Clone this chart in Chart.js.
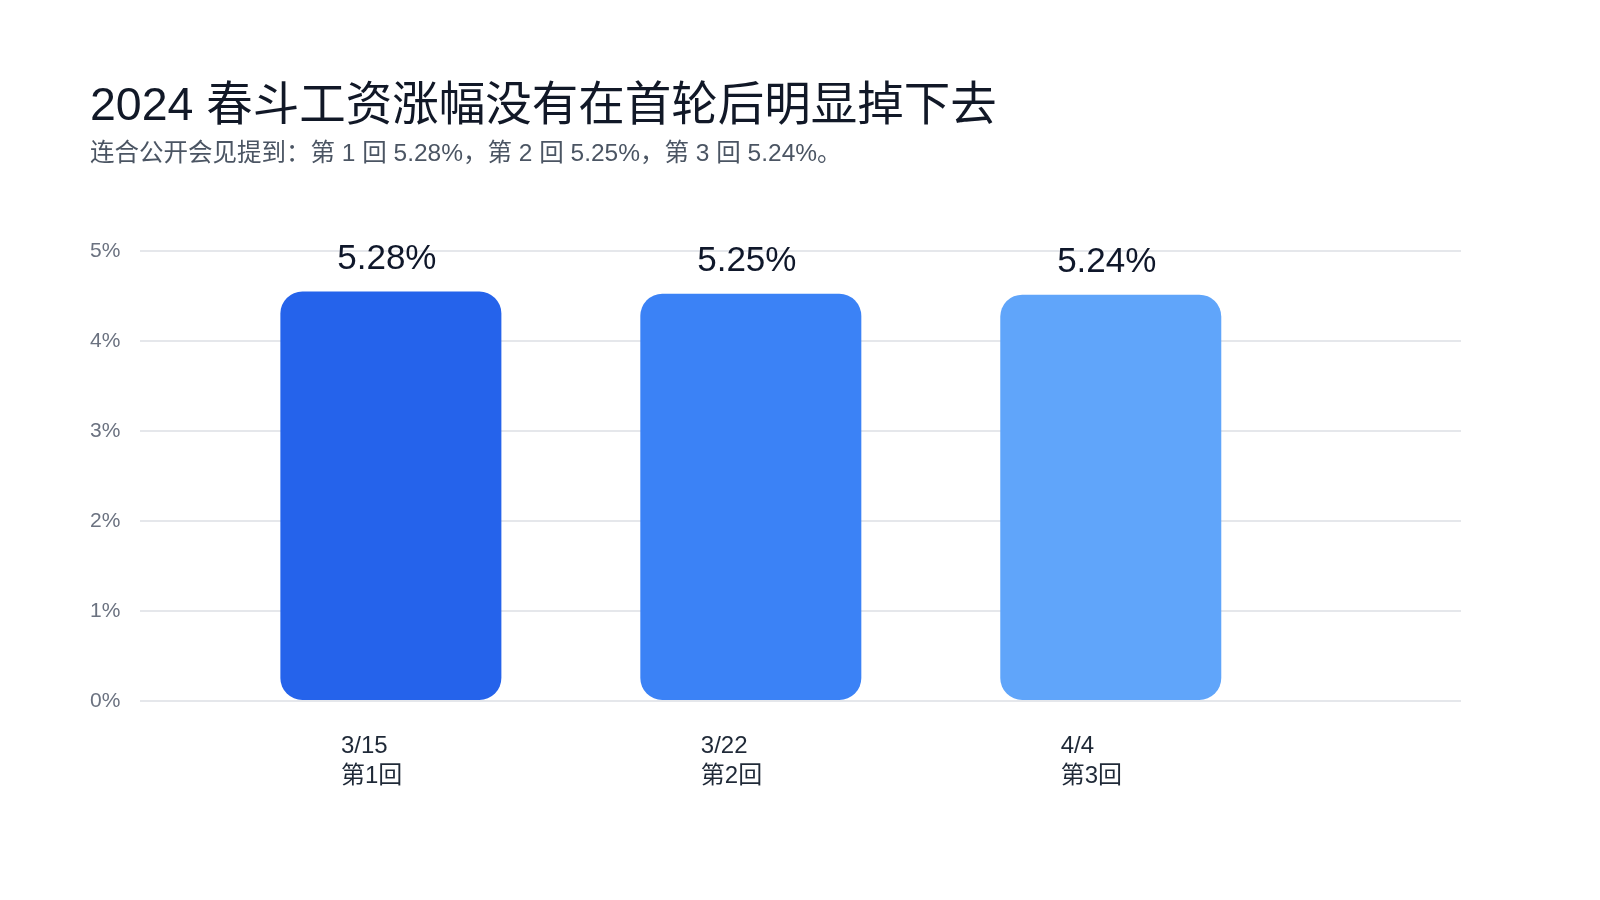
<!DOCTYPE html>
<html>
<head>
<meta charset="utf-8">
<script src="https://cdn.jsdelivr.net/npm/chart.js@4/dist/chart.umd.min.js"></script>
<style>
  html, body { margin: 0; padding: 0; background: #fff; }
  #wrap { width: 1600px; height: 900px; position: relative; }
</style>
</head>
<body>
<div id="wrap"><canvas id="myChart"></canvas></div>
<script>
// data
const dates = ['3/15', '3/22', '4/4'];
const rounds = ['第1回', '第2回', '第3回'];
const raises = [5.28, 5.25, 5.24];
const yTickLabels = ['0%', '1%', '2%', '3%', '4%', '5%'];
const yMax = 5.8;

const barColors = ['#2563eb', '#3b82f6', '#60a5fa'];
const FONT = '"Liberation Sans", "Noto Sans CJK SC", Arial, sans-serif';

const valueLabels = {
  id: 'valueLabels',
  afterDatasetsDraw(chart) {
    const ctx = chart.ctx;
    const meta = chart.getDatasetMeta(0);
    ctx.save();
    ctx.font = '35px ' + FONT;
    ctx.fillStyle = '#0f172a';
    ctx.textAlign = 'center';
    ctx.textBaseline = 'alphabetic';
    meta.data.forEach((bar, i) => {
      ctx.fillText(raises[i].toFixed(2) + '%', bar.x - 4, bar.y - 23);
    });
    ctx.restore();
  }
};

const ctx = document.getElementById('myChart').getContext('2d');
const myChart = new Chart(ctx, {
  type: 'bar',
  data: {
    datasets: [{
      data: raises.map((v, i) => ({ x: i, y: v })),
      backgroundColor: barColors,
      borderRadius: 22,
      borderSkipped: false,
      categoryPercentage: 1,
      barPercentage: 0.614
    }]
  },
  options: {
    responsive: true,
    maintainAspectRatio: false,
    animation: false,
    layout: {
      padding: { left: 90, right: 139, top: 0, bottom: 79 }
    },
    scales: {
      x: {
        type: 'linear',
        offset: false,
        min: -0.696,
        max: 2.973,
        grid: { display: false, drawTicks: false },
        border: { display: false },
        afterBuildTicks: (scale) => {
          scale.ticks = dates.map((_, i) => ({ value: i }));
        },
        ticks: {
          align: 'start',
          labelOffset: -50,
          padding: 30,
          maxRotation: 0,
          autoSkip: false,
          color: '#1f2937',
          font: { family: FONT, size: 24, lineHeight: 1.25 },
          callback: (value, i) => [dates[i], rounds[i]]
        }
      },
      y: {
        min: 0,
        max: yMax,
        grid: { color: '#e5e7eb', lineWidth: 2, drawTicks: false },
        border: { display: false },
        afterBuildTicks: (scale) => {
          scale.ticks = yTickLabels.map((_, i) => ({ value: yMax * i / (yTickLabels.length - 1) }));
        },
        ticks: {
          padding: 10,
          crossAlign: 'far',
          color: '#6b7280',
          font: { family: FONT, size: 21 },
          callback: (value, i) => yTickLabels[i]
        }
      }
    },
    plugins: {
      legend: { display: false },
      tooltip: { enabled: false },
      title: {
        display: true,
        align: 'start',
        text: '2024 春斗工资涨幅没有在首轮后明显掉下去',
        color: '#111827',
        font: { family: FONT, size: 46.5, weight: 'normal', lineHeight: 1.2 },
        padding: { top: 79, bottom: 0 }
      },
      subtitle: {
        display: true,
        align: 'start',
        text: '连合公开会见提到：第 1 回 5.28%，第 2 回 5.25%，第 3 回 5.24%。',
        color: '#4b5563',
        font: { family: FONT, size: 24.5, weight: 'normal', lineHeight: 1.2 },
        padding: { top: 5, bottom: 82 }
      }
    }
  },
  plugins: [valueLabels]
});
</script>
</body>
</html>
